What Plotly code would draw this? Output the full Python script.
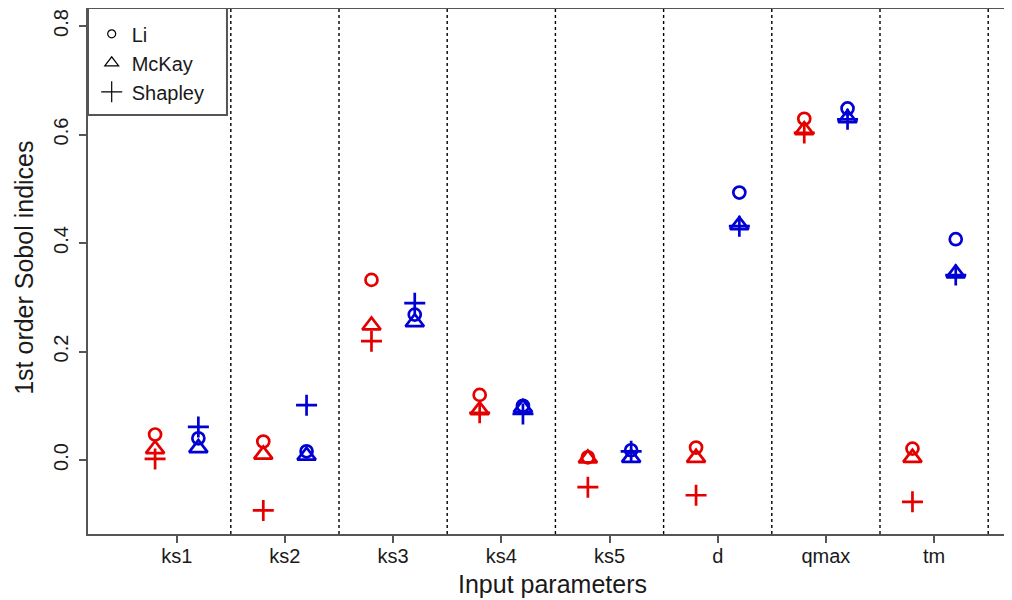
import plotly.graph_objects as go

# ---- data ----
params = ["ks1", "ks2", "ks3", "ks4", "ks5", "d", "qmax", "tm"]

# red series (left of each category)
red_li      = [0.047, 0.034, 0.332, 0.120, 0.005, 0.023, 0.629, 0.021]
red_mckay   = [0.020, 0.010, 0.248, 0.092, 0.003, 0.004, 0.608, 0.004]
red_shapley = [0.002, -0.093, 0.219, 0.087, -0.050, -0.065, 0.603, -0.077]

# blue series (right of each category)
blue_li      = [0.040, 0.016, 0.268, 0.100, 0.018, 0.493, 0.648, 0.407]
blue_mckay   = [0.022, 0.008, 0.254, 0.096, 0.004, 0.433, 0.630, 0.344]
blue_shapley = [0.061, 0.101, 0.289, 0.085, 0.016, 0.431, 0.628, 0.341]

y_ticks = [0.0, 0.2, 0.4, 0.6, 0.8]
methods = ["Li", "McKay", "Shapley"]

# ---- styling ----
RED = "#e50000"
BLUE = "#0000d4"
AXIS = "#555555"
TXT = "#1a1a1a"
OFFSET = 0.2
idx = list(range(1, len(params) + 1))

symbols = {"Li": ("circle-open", 12), "McKay": ("triangle-up-open", 16),
           "Shapley": ("cross-thin-open", 15)}

fig = go.Figure()

def add_series(values, color, shift, method):
    sym, size = symbols[method]
    fig.add_trace(go.Scatter(
        x=[i + shift for i in idx], y=values, mode="markers",
        name=method, showlegend=False,
        marker=dict(symbol=sym, size=size, color=color,
                    line=dict(color=color, width=2.7)),
    ))

for vals, m in zip([red_li, red_mckay, red_shapley], methods):
    add_series(vals, RED, -OFFSET, m)
for vals, m in zip([blue_li, blue_mckay, blue_shapley], methods):
    add_series(vals, BLUE, OFFSET, m)

# legend-only entries (black symbols)
leg_sizes = {"Li": 8, "McKay": 12, "Shapley": 15}
for m in methods:
    sym, _ = symbols[m]
    fig.add_trace(go.Scatter(
        x=[None], y=[None], mode="markers", name=m,
        marker=dict(symbol=sym, size=leg_sizes[m], color="black",
                    line=dict(color="black", width=1.2)),
    ))

# dotted separators between categories
for i in idx:
    fig.add_shape(type="line", xref="x", yref="paper", x0=i + 0.5, x1=i + 0.5,
                  y0=0, y1=1, line=dict(color="black", width=1.4, dash="dot"), layer="below")

# top border line
fig.add_shape(type="line", xref="paper", yref="paper", x0=0, x1=1, y0=1, y1=1,
              line=dict(color=AXIS, width=2))

# legend box
fig.add_shape(type="rect", xref="paper", yref="paper", x0=0, x1=0.1504, y0=0.7966, y1=1,
              line=dict(color=AXIS, width=2), fillcolor="rgba(0,0,0,0)")

# axis titles
fig.add_annotation(text="Input parameters", xref="paper", yref="paper",
                   x=0.503, y=-0.096, xanchor="center", yanchor="middle",
                   showarrow=False, font=dict(size=25, color=TXT))
fig.add_annotation(text="1st order Sobol indices", xref="paper", yref="paper",
                   x=-0.0693, y=0.506, xanchor="center", yanchor="middle", textangle=-90,
                   showarrow=False, font=dict(size=25, color=TXT))

# page body has an 8px margin, so the figure is 1004x592 to fill the 1012x600 window
fig.update_layout(
    width=1004, height=592,
    margin=dict(l=80, r=0, t=0, b=66),
    paper_bgcolor="white", plot_bgcolor="white",
    font=dict(family="Liberation Sans, Arial, sans-serif", color=TXT),
    xaxis=dict(
        range=[0.18, 8.72], tickvals=idx, ticktext=params,
        showgrid=False, zeroline=False, automargin=False,
        showline=True, linecolor=AXIS, linewidth=2,
        ticks="outside", ticklen=7, tickwidth=1.5, tickcolor=AXIS,
        tickfont=dict(size=20), ticklabelstandoff=-4,
    ),
    yaxis=dict(
        range=[-0.1364, 0.8332], tickvals=y_ticks,
        ticktext=[f"{v:.1f}" for v in y_ticks],
        tickangle=-90,
        showgrid=False, zeroline=False, automargin=False,
        showline=True, linecolor=AXIS, linewidth=2,
        ticks="outside", ticklen=7, tickwidth=1.5, tickcolor=AXIS,
        tickfont=dict(size=20), ticklabelstandoff=3,
    ),
    legend=dict(
        x=0.004, y=0.988, xanchor="left", yanchor="top",
        borderwidth=0, bgcolor="rgba(0,0,0,0)",
        font=dict(size=20, color=TXT),
        itemwidth=30,
    ),
)

fig.write_html("out.html")
